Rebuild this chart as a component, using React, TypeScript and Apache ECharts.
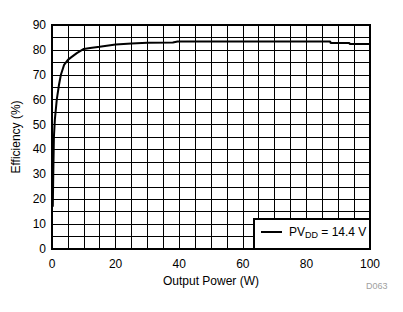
import React, { useEffect, useRef } from "react";
import * as echarts from "echarts";

const powerW = [0.25, 0.4, 0.6, 0.9, 1.5, 2.2, 2.8, 3.8, 5, 6, 7.8, 10, 12, 15, 20, 25, 30, 38, 39.5, 60, 87.5, 87.6, 93.5, 93.6, 100];
const efficiency = [17, 30, 45, 52, 60, 66, 70, 74, 76, 77, 78.7, 80.4, 80.8, 81.3, 82.2, 82.6, 82.9, 83.0, 83.4, 83.4, 83.4, 82.8, 82.8, 82.4, 82.4];
const xLabelStep = 20;
const yLabelStep = 10;

const FONT = "'Liberation Sans', Arial, sans-serif";

export default function App() {
  const ref = useRef<HTMLDivElement>(null);
  useEffect(() => {
    if (!ref.current) return;
    const chart = echarts.init(ref.current, null, { renderer: "svg" });
    chart.setOption({
      animation: false,
      backgroundColor: "#fff",
      grid: { left: 52, top: 25, right: 33, bottom: 63, show: true, borderColor: "#000", borderWidth: 2, backgroundColor: "transparent" },
      xAxis: {
        type: "value",
        min: 0,
        max: 100,
        interval: 5,
        name: "Output Power (W)",
        nameLocation: "middle",
        nameGap: 24,
        nameTextStyle: { fontFamily: FONT, fontSize: 12, color: "#000" },
        axisLine: { show: true, lineStyle: { color: "#000", width: 2 } },
        axisTick: { show: false },
        axisLabel: {
          fontFamily: FONT, fontSize: 12, color: "#000", margin: 9,
          formatter: (v: number) => (v % xLabelStep === 0 ? String(v) : ""),
        },
        splitLine: { show: true, lineStyle: { color: "#000", width: 1 } },
      },
      yAxis: {
        type: "value",
        min: 0,
        max: 90,
        interval: 5,
        name: "Efficiency (%)",
        nameLocation: "middle",
        nameGap: 27,
        nameTextStyle: { fontFamily: FONT, fontSize: 12, color: "#000" },
        axisLine: { show: true, lineStyle: { color: "#000", width: 2 } },
        axisTick: { show: false },
        axisLabel: {
          fontFamily: FONT, fontSize: 12, color: "#000", margin: 6,
          formatter: (v: number) => (v % yLabelStep === 0 ? String(v) : ""),
        },
        splitLine: { show: true, lineStyle: { color: "#000", width: 1 } },
      },
      legend: {
        show: true,
        left: 261,
        top: 226,
        itemWidth: 21,
        itemHeight: 14,
        itemGap: 0,
        padding: 0,
        z: 10,
        icon: "path://M0,6 L21,6 L21,8 L0,8 Z",
        formatter: () => "{a|PV}{b|DD}{a| = 14.4 V}",
        textStyle: {
          color: "#000",
          padding: [0, 0, 0, 2],
          rich: {
            a: { fontFamily: FONT, fontSize: 12, color: "#000" },
            b: { fontFamily: FONT, fontSize: 9, color: "#000", padding: [6, 0, 0, 0] },
          },
        },
      },
      graphic: [
        {
          type: "rect",
          z: 5,
          shape: { x: 254, y: 219, width: 116, height: 30 },
          style: { fill: "#fff", stroke: "#000", lineWidth: 2 },
        },
        {
          type: "text",
          x: 366,
          y: 281,
          style: { text: "D063", fontFamily: FONT, fontSize: 9, fill: "#a0a0a0" },
        },
      ],
      series: [
        {
          name: "PVDD",
          type: "line",
          data: powerW.map((p, i) => [p, efficiency[i]]),
          showSymbol: false,
          symbol: "none",
          lineStyle: { color: "#000", width: 2 },
          itemStyle: { color: "#000" },
        },
      ],
    });
    return () => chart.dispose();
  }, []);
  return <div ref={ref} style={{ position: "fixed", left: 0, top: 0, width: 403, height: 312 }} />;
}
